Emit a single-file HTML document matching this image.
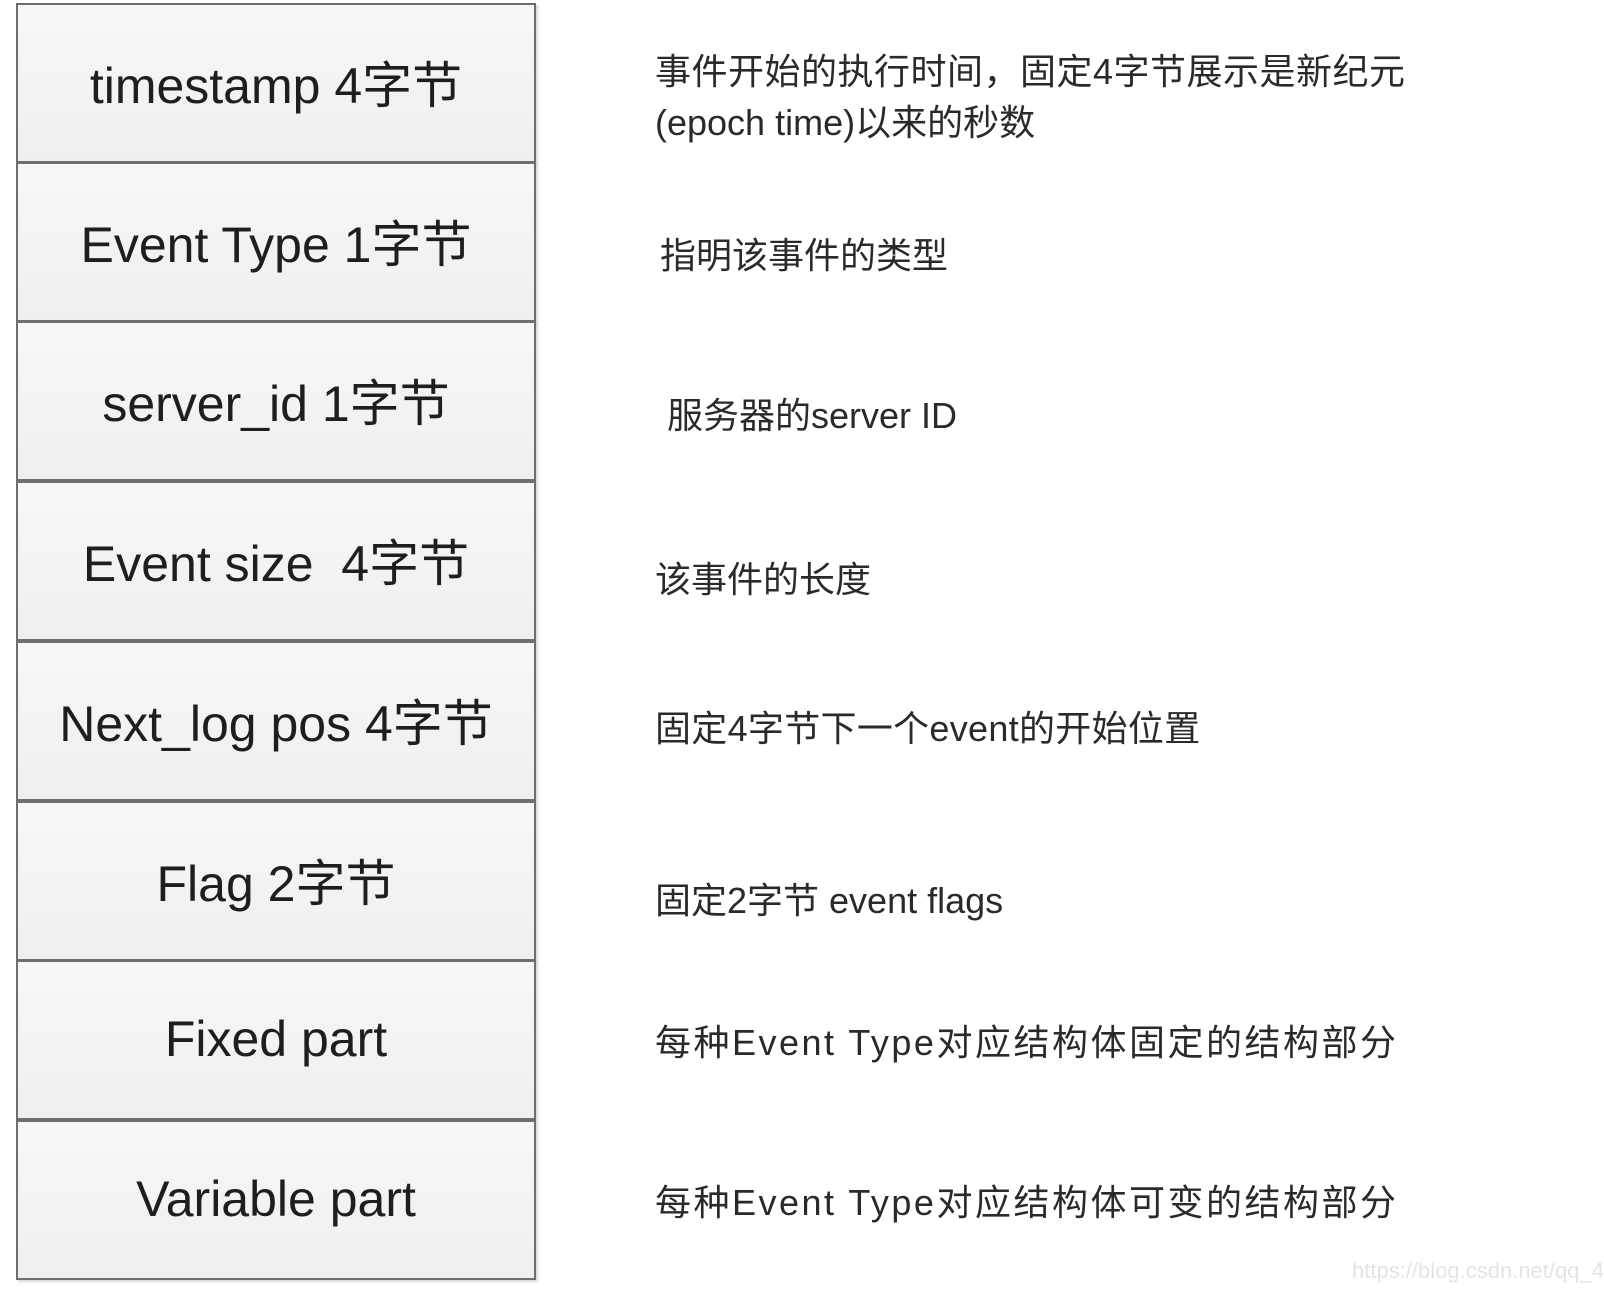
<!DOCTYPE html>
<html><head><meta charset="utf-8"><style>
html,body{margin:0;padding:0;background:#fff;}
body{width:1604px;height:1290px;position:relative;overflow:hidden;font-family:"Liberation Sans","Noto Sans CJK SC",sans-serif;}
.box{position:absolute;left:16px;width:520px;border:2px solid #6e6e6e;background:linear-gradient(#f7f7f7,#efefef);box-shadow:2px 2px 2px rgba(0,0,0,0.15);display:flex;align-items:center;justify-content:center;font-size:50px;color:#1e1e1e;box-sizing:border-box;height:160px;padding-bottom:3px;}
.t{position:absolute;font-size:36px;color:#2a2a2a;white-space:nowrap;line-height:1;}
.wm{position:absolute;left:1352px;top:1258px;font-size:22px;color:#e4e4e4;}
</style></head><body>
<div class="box" style="top:3px">timestamp 4字节</div>
<div class="box" style="top:162px">Event Type 1字节</div>
<div class="box" style="top:321px">server_id 1字节</div>
<div class="box" style="top:481px">Event size&nbsp; 4字节</div>
<div class="box" style="top:641px">Next_log pos 4字节</div>
<div class="box" style="top:801px">Flag 2字节</div>
<div class="box" style="top:960px">Fixed part</div>
<div class="box" style="top:1120px">Variable part</div>

<div class="t" style="left:655px;top:54px;letter-spacing:0.5px">事件开始的执行时间，固定4字节展示是新纪元</div>
<div class="t" style="left:655px;top:105px">(epoch time)以来的秒数</div>
<div class="t" style="left:660px;top:238px">指明该事件的类型</div>
<div class="t" style="left:667px;top:398px">服务器的server ID</div>
<div class="t" style="left:655px;top:562px">该事件的长度</div>
<div class="t" style="left:655px;top:711px;letter-spacing:0.3px">固定4字节下一个event的开始位置</div>
<div class="t" style="left:655px;top:883px">固定2字节 event flags</div>
<div class="t" style="left:655px;top:1025px;letter-spacing:2.5px">每种Event Type对应结构体固定的结构部分</div>
<div class="t" style="left:655px;top:1185px;letter-spacing:2.5px">每种Event Type对应结构体可变的结构部分</div>
<div class="wm">https://blog.csdn.net/qq_4</div>
</body></html>
